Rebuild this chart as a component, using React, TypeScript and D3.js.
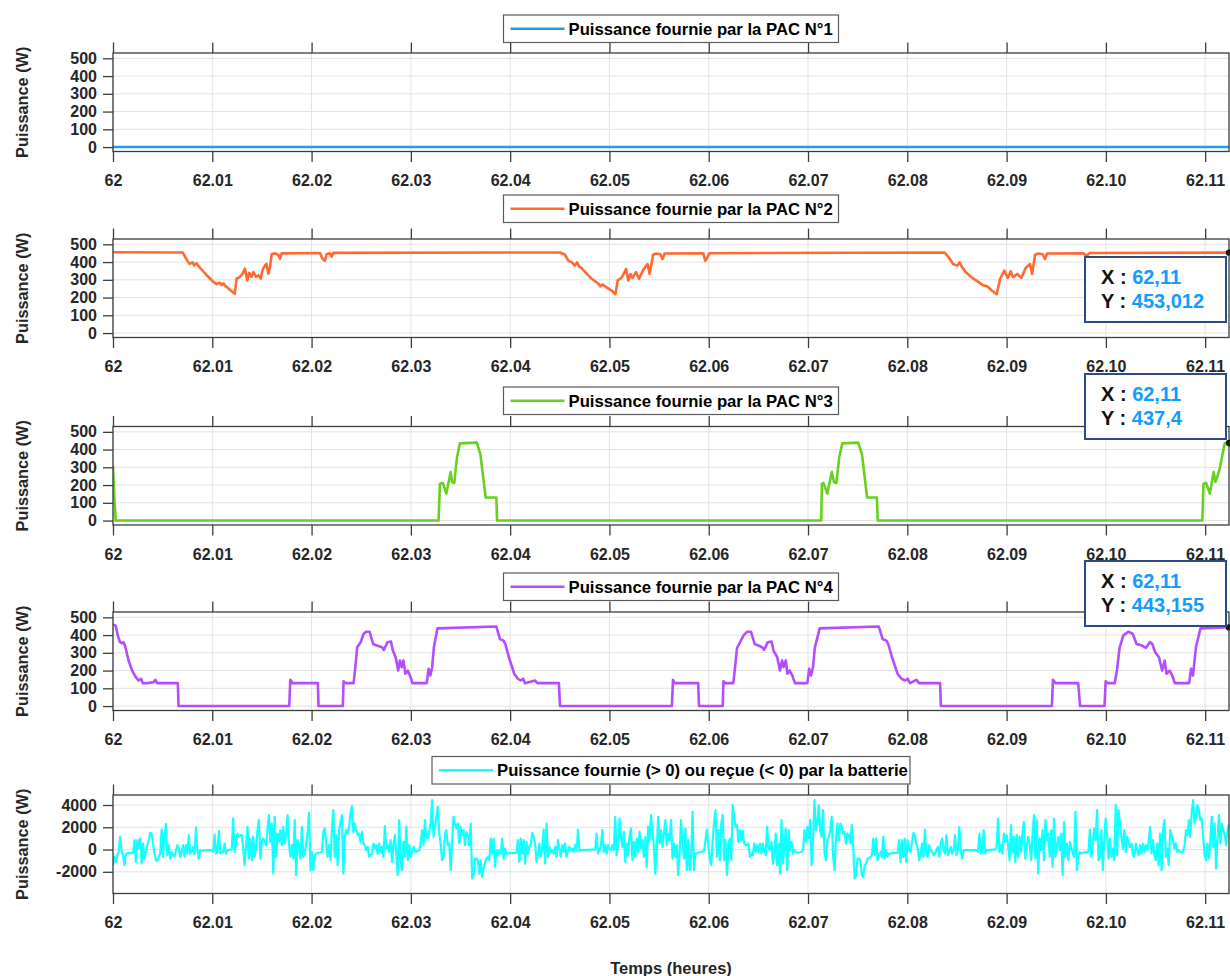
import React, { useEffect, useRef } from 'react';
import * as d3 from 'd3';

type Pt = [number, number];

const FONT = '"Liberation Sans", Arial, Helvetica, sans-serif';

// axes
const timeStart = 62;
const timeEnd = 62.1124;
const xTicks = [62, 62.01, 62.02, 62.03, 62.04, 62.05, 62.06, 62.07, 62.08, 62.09, 62.1, 62.11];
const xTickLabels = ['62', '62.01', '62.02', '62.03', '62.04', '62.05', '62.06', '62.07', '62.08', '62.09', '62.10', '62.11'];
const pacTicks = [0, 100, 200, 300, 400, 500];
const batteryTicks = [-2000, 0, 2000, 4000];

// PAC N°1 : always off
const pac1: Pt[] = [[62, 0], [62.1124, 0]];

// PAC N°2 (t in hours, W)
const pac2: Pt[] = [
  [62, 455], [62.00702, 454], [62.00748, 408], [62.00769, 390], [62.00802, 399], [62.00816, 381], [62.00843, 393],
  [62.00863, 375], [62.00876, 368], [62.00943, 326], [62.0101, 289], [62.01044, 276], [62.01071, 284], [62.01094, 271],
  [62.01111, 280], [62.01138, 262], [62.01178, 244], [62.01225, 221], [62.01245, 307], [62.01272, 313], [62.01306, 335],
  [62.01329, 363], [62.01353, 298], [62.01373, 339], [62.01396, 317], [62.01413, 344], [62.0144, 317], [62.01463, 326],
  [62.01487, 307], [62.01507, 357], [62.01531, 381], [62.01547, 390], [62.01564, 335], [62.01581, 370], [62.01598, 445],
  [62.01631, 449], [62.01665, 441], [62.01682, 418], [62.01698, 449], [62.02085, 451], [62.02111, 418], [62.02135, 408],
  [62.02152, 445], [62.02185, 449], [62.02202, 430], [62.02219, 452], [62.04502, 454],
  [62.04553, 441], [62.04587, 407], [62.04622, 398], [62.04652, 380], [62.04674, 398], [62.04695, 374], [62.04717, 367],
  [62.04803, 315], [62.04889, 278], [62.0491, 263], [62.04932, 274], [62.04966, 259], [62.05018, 241], [62.05061, 219],
  [62.05083, 296], [62.05126, 315], [62.05168, 361], [62.0519, 296], [62.05212, 333], [62.05233, 311], [62.05268, 343],
  [62.05298, 306], [62.0534, 356], [62.05384, 389], [62.05405, 333], [62.0544, 441], [62.0547, 448], [62.05513, 444],
  [62.05535, 417], [62.05556, 448], [62.05944, 450], [62.05965, 407], [62.05986, 426], [62.06008, 450], [62.08375, 454],
  [62.08418, 426], [62.08461, 389], [62.08504, 380], [62.08526, 398], [62.08556, 367], [62.0859, 343], [62.08655, 311],
  [62.08719, 287], [62.08762, 269], [62.08806, 263], [62.08848, 241], [62.089, 219], [62.08935, 306], [62.08977, 352],
  [62.09012, 311], [62.09042, 348], [62.09064, 315], [62.09107, 333], [62.09149, 311], [62.09192, 367], [62.09236, 389],
  [62.09257, 333], [62.09287, 441], [62.09321, 448], [62.09364, 444], [62.09386, 417], [62.09408, 448], [62.09773, 449],
  [62.09804, 435], [62.09838, 451], [62.1124, 453.012],
];

// PAC N°3
const pac3: Pt[] = [
  [62, 310], [62.00013, 134], [62.00027, 0], [62.03279, 0], [62.03293, 208], [62.03322, 212], [62.03357, 152],
  [62.03401, 273], [62.03415, 217], [62.03437, 212], [62.03465, 357], [62.03494, 435], [62.03664, 439], [62.037, 375],
  [62.03753, 130], [62.03861, 130], [62.03868, 0],
  [62.07133, 0], [62.0714, 208], [62.07156, 212], [62.07194, 152], [62.0724, 273], [62.07262, 217], [62.07285, 212],
  [62.07315, 357], [62.07345, 435], [62.07505, 439], [62.07543, 375], [62.07595, 130], [62.07694, 130], [62.07702, 0],
  [62.10972, 0], [62.10983, 208], [62.11009, 212], [62.11047, 152], [62.11085, 273], [62.11104, 217], [62.11142, 282],
  [62.11198, 437], [62.1124, 437.4],
];

// PAC N°4
const pac4: Pt[] = [
  [62, 459], [62.00027, 453], [62.00049, 397], [62.0007, 360], [62.00092, 354], [62.00106, 360], [62.00121, 341],
  [62.00157, 257], [62.00193, 200], [62.00229, 163], [62.00257, 144], [62.00283, 154], [62.00301, 129], [62.00337, 129],
  [62.00409, 135], [62.00427, 148], [62.00445, 129], [62.00653, 129], [62.0066, 0], [62.01775, 0], [62.01786, 148],
  [62.01811, 129], [62.02063, 129], [62.0207, 0], [62.02315, 0], [62.02322, 140], [62.02343, 129], [62.02423, 129],
  [62.02441, 219], [62.02459, 331], [62.02495, 360], [62.02523, 406], [62.02549, 419], [62.02584, 419], [62.0262, 350],
  [62.02656, 341], [62.0271, 331], [62.02728, 316], [62.02764, 360], [62.028, 363], [62.02818, 313], [62.02847, 275],
  [62.02872, 200], [62.0289, 257], [62.02908, 219], [62.02926, 257], [62.02944, 182], [62.02969, 200], [62.02991, 172],
  [62.03016, 129], [62.0316, 129], [62.03178, 210], [62.03196, 172], [62.03214, 219], [62.03232, 331], [62.03268, 438],
  [62.03861, 448], [62.03897, 378], [62.03933, 369], [62.03951, 350], [62.03987, 275], [62.04041, 182], [62.04077, 154],
  [62.04106, 144], [62.04131, 154], [62.04149, 129], [62.0425, 144], [62.04275, 129], [62.04491, 129], [62.04502, 0],
  [62.05629, 0], [62.0564, 148], [62.05656, 129], [62.05894, 129], [62.05902, 0], [62.06141, 0], [62.06148, 140],
  [62.06171, 129], [62.06247, 129], [62.06262, 200], [62.06285, 328], [62.06311, 354], [62.06349, 397], [62.06387, 419],
  [62.06425, 419], [62.06462, 350], [62.065, 341], [62.06539, 331], [62.06558, 316], [62.06595, 360], [62.06633, 363],
  [62.06652, 313], [62.0669, 275], [62.06717, 200], [62.06739, 257], [62.06754, 219], [62.06777, 257], [62.06792, 182],
  [62.06815, 200], [62.06842, 172], [62.06868, 129], [62.06993, 129], [62.07012, 210], [62.07031, 172], [62.0705, 219],
  [62.07069, 331], [62.07118, 438], [62.07713, 448], [62.07751, 378], [62.07789, 369], [62.07808, 350], [62.07846, 275],
  [62.07902, 182], [62.07941, 154], [62.07978, 144], [62.08005, 154], [62.08027, 129], [62.08092, 148], [62.08119, 129],
  [62.0833, 129], [62.08338, 0], [62.09456, 0], [62.09467, 148], [62.09494, 129], [62.09721, 129], [62.0974, 0],
  [62.09986, 0], [62.09998, 140], [62.10024, 129], [62.10089, 129], [62.10111, 200], [62.10138, 328], [62.10175, 397],
  [62.10225, 419], [62.10271, 406], [62.10309, 350], [62.10365, 341], [62.10403, 328], [62.10441, 360], [62.10467, 350],
  [62.10497, 303], [62.10535, 275], [62.10566, 200], [62.10592, 257], [62.10611, 182], [62.10642, 200], [62.10668, 172],
  [62.10695, 129], [62.10839, 129], [62.10858, 210], [62.10877, 172], [62.10907, 331], [62.10953, 438], [62.11198, 443],
  [62.1124, 443.155],
];

// battery power, sampled on a regular time base (first and second half of the window)
const batteryAStart = 62;
const batteryBStart = 62.05606;
const batteryA = [
  -1410, -660, -1110, -510, -210, 1140, -60, -510, -1410, -360,
  -360, -330, -330, -300, -300, 840, -1110, 840, 90, 990,
  -1260, 540, -810, -210, 390, 840, 1500, 1440, 540, -360,
  -960, -1020, -660, -360, 1800, -660, 1140, 2280, -510, 390,
  -810, -210, -510, -660, -60, 390, 90, -660, -210, 390,
  -660, 390, -360, 1290, -360, -210, 240, -420, 1980, -60,
  -810, -60, -90, -90, -90, -60, -60, -60, -60, -60,
  -210, 1350, -360, -210, 1680, -360, -210, -240, 540, -360,
  -60, -30, -30, 0, 2790, -210, 540, 1440, 1140, 1290,
  1290, 90, -1410, 390, 2040, -810, 990, -960, 1140, -660,
  240, 1740, 2640, -810, 690, 990, 690, 390, 1890, 3090,
  690, 2340, -2160, 2940, -660, 1440, 690, 1740, 390, 2040,
  540, 1440, 3090, 540, -660, 390, -810, 2640, -2310, 840,
  90, -810, 2040, -660, -360, 540, 1440, 3300, -1860, -210,
  -1860, -510, -360, -330, -300, -270, -210, 1590, 1890, 540,
  -660, 390, -960, 1890, 3540, -660, 1290, -1410, 1740, 2490,
  3090, -2160, 1140, 1740, 1440, 2040, 3240, 3900, 1590, 2340,
  1740, 1290, 1440, 690, 1590, 540, 390, -60, 240, -660,
  -510, -360, 540, 90, 390, -360, 540, -210, 240, -660,
  2100, 90, 390, -210, 840, -1110, 390, 1290, -360, -2310,
  2640, -1110, -1860, 690, -660, 2040, -960, 390, -660, -210,
  240, -210, -210, -120, -60, 540, 1740, 390, 2640, 1140,
  990, 1590, 2340, 4440, 1140, 2040, 2940, 3840, 1440, 540,
  -960, -660, 1440, 1740, 390, 540, -1860, 690, 2940, 2340,
  1890, 2340, 540, 2040, 1290, 1740, 390, 1590, 1290, 390,
  2340, -2610, -2310, -810, -810, -960, -2160, -960, -2460, -1710,
  -1110, -810, -660, -960, 990, -360, 990, -1560, -60, -510,
  -60, -360, 990, -810, 90, -360, -360, -330, -330, -330,
  -300, -300, -300, 840, -1110, 990, -360, 840, -1260, 690,
  -360, 240, 540, 1500, 1140, 540, -1110, -360, 540, -660,
  240, 1800, -1260, 2340, -660, 240, -210, -60, -360, 240,
  -660, 840, 90, -660, 390, -210, 540, -660, 0, 240,
  -60, 90, -210, 390, -60, 1800, -60, -60, -60, -60,
  -30, -30, -30, -30, 0, 0, 0, 0, 1440, -360,
  -60, 390, 1740, -210, 390, -360, 390, 90, -60, 390,
  -60, 2940, -510, 540, 2790, 1140, 240, 1590, -1110, 540,
  -510, 1290, 1890, -960, 690, -660, 990, -210, 1590, 90,
  840, -660, 1140, -1560, 2040, 840, 3090, 1740, 240, -2160,
  -60, 2940, 540, 1740, 240, 1440, 2640, 390, 1440,
];
const batteryB = [
  840, 2640, -810, 540, -660, 390, -2310, -210, 2640, 540,
  -810, 1890, -1860, 840, -1860, -660, 3390, -1860, -360, -360,
  -300, -240, -210, -180, -150, 840, 1800, 390, -810, -1410,
  840, 2490, 3540, -660, 1740, -960, 2340, 3090, -960, 840,
  -2310, 540, 990, -960, 3990, 2940, 2040, 2190, 690, 1740,
  840, 1680, 540, 390, 390, 540, -660, -360, -510, 540,
  -210, 390, -210, 540, -360, 540, -60, -510, 2040, 90,
  -60, 690, -1260, -360, 1440, -1410, 540, -2160, 2640, -1260,
  240, 1890, -1860, 1740, -60, 690, -360, -60, -210, -300,
  -270, -240, -210, -60, 1740, 690, 2040, 990, 2640, -1410,
  840, 4440, 1740, 2340, 3990, 1740, 1140, 3540, -360, -960,
  840, 1140, 1740, 2940, -660, -1860, 1140, 2340, 840, 2340,
  2040, 1440, 1590, 540, 1440, 1290, 540, 2190, 390, -2610,
  -2310, -810, -810, -960, -2310, -2460, -1410, -1260, -810, -810,
  -660, -510, 990, -510, 990, -960, -510, -210, -660, 1140,
  -810, -60, -660, -360, -360, -330, -330, -300, -300, -300,
  840, -1110, 840, -660, 990, -1110, 840, -60, -210, 690,
  1500, 1290, 540, 90, -960, -360, 540, -660, 1800, -510,
  -660, 390, -60, -210, -510, -360, -60, 240, -660, 540,
  990, -60, -360, 1290, -510, -210, 240, -360, -60, 1290,
  -510, -60, 2040, -60, -810, -60, -60, -60, -60, -60,
  -60, -60, -60, -60, -60, -210, 1440, -360, -210, 1740,
  -360, -60, -60, -30, -30, 0, 0, 0, 240, 2790,
  -210, 390, -360, 1440, 690, 1290, 390, -960, 2190, -210,
  1140, -1110, 1290, -660, 1140, -210, 1440, 2490, -810, 390,
  1140, 540, -960, 1140, 3090, -810, 2640, -2160, 990, -60,
  1740, -960, 2640, 840, 1440, -660, 1740, -1560, 2790, -660,
  390, 1140, -60, 1440, -2310, 2490, -660, 540, -960, 690,
  240, -360, -660, 3390, -1860, -510, -210, -360, -300, -240,
  -240, -210, -210, 1800, -660, 540, 1890, 840, 3540, -960,
  -660, 1740, -1860, 840, 2790, 1290, -810, 990, -660, 90,
  -960, 3990, -510, 3540, 2340, 1140, 90, 1740, -210, 1140,
  540, 240, 540, -510, -660, 540, -60, -510, 390, -360,
  540, -210, 390, -60, 690, 2040, -360, 840, -510, -960,
  540, -1410, 1440, -1860, 1740, 2640, -660, 90, -1410, 1740,
  1290, 840, 90, 540, -210, -60, -210, -210, -210, 390,
  1740, 1290, 2640, 1140, 3390, 4440, 2340, 2940, 3990, 3540,
  2640, 2790, 1140, -510, -960, 540, -810, 840, 2940, 240,
  2340, -1710, 840, 3090, 540, 2340, 1740, 1290, 390, 1740,
  2340,
];

const battery: Pt[] = [
  ...batteryA.map((v, i): Pt => [batteryAStart + (i * (batteryBStart - batteryAStart)) / batteryA.length, v]),
  ...batteryB.map((v, i): Pt => [batteryBStart + (i * (timeEnd - batteryBStart)) / (batteryB.length - 1), v]),
];

const legendLabels = [
  'Puissance fournie par la PAC N°1',
  'Puissance fournie par la PAC N°2',
  'Puissance fournie par la PAC N°3',
  'Puissance fournie par la PAC N°4',
  'Puissance fournie (> 0) ou reçue (< 0) par la batterie',
];
const seriesColors = ['#1f9bf0', '#ff6a33', '#68d11f', '#b34dff', '#14ffff'];

// data tips shown on the last sample of PAC 2, 3, 4
const tipPanels = [1, 2, 3];
const tipX = ['62,11', '62,11', '62,11'];
const tipY = ['453,012', '437,4', '443,155'];

// layout
const plotLeft = 113;
const plotRight = 1229;
const plotHeight = 98.5;
const panelTops = [53, 239, 426.5, 612, 795];
const legendTops = [15, 195, 387, 573, 756.5];
const legendWidths = [335, 335, 335, 335, 478];
const tipTops = [257, 374, 561];

const panels = [
  { data: pac1, ticks: pacTicks, domain: [-25, 530] },
  { data: pac2, ticks: pacTicks, domain: [-25, 530] },
  { data: pac3, ticks: pacTicks, domain: [-25, 530] },
  { data: pac4, ticks: pacTicks, domain: [-25, 530] },
  { data: battery, ticks: batteryTicks, domain: [-3950, 4900] },
];

const App: React.FC = () => {
  const svgRef = useRef<SVGSVGElement>(null);

  useEffect(() => {
    document.body.style.margin = '0';
    if (!svgRef.current) return;
    const svg = d3.select(svgRef.current);
    svg.selectAll('*').remove();

    const x = d3.scaleLinear().domain([timeStart, timeEnd]).range([plotLeft, plotRight]);
    const midX = (plotLeft + plotRight) / 2;
    const yScales: d3.ScaleLinear<number, number>[] = [];

    panels.forEach((p, i) => {
      const top = panelTops[i];
      const bottom = top + plotHeight;
      const y = d3.scaleLinear().domain(p.domain).range([bottom, top]);
      yScales.push(y);
      const g = svg.append('g');

      // grid
      g.append('g').selectAll('line').data(xTicks).join('line')
        .attr('x1', d => x(d)).attr('x2', d => x(d))
        .attr('y1', top).attr('y2', bottom)
        .attr('stroke', '#e2e2e2').attr('stroke-width', 1);
      g.append('g').selectAll('line').data(p.ticks).join('line')
        .attr('x1', plotLeft).attr('x2', plotRight)
        .attr('y1', d => y(d)).attr('y2', d => y(d))
        .attr('stroke', '#e2e2e2').attr('stroke-width', 1);

      // series
      const clipId = `plot-clip-${i}`;
      svg.append('clipPath').attr('id', clipId).append('rect')
        .attr('x', plotLeft).attr('y', top).attr('width', plotRight - plotLeft).attr('height', plotHeight);
      const line = d3.line<Pt>().x(d => x(d[0])).y(d => y(d[1]));
      g.append('path')
        .datum(p.data)
        .attr('clip-path', `url(#${clipId})`)
        .attr('d', line)
        .attr('fill', 'none')
        .attr('stroke', seriesColors[i])
        .attr('stroke-width', i === 4 ? 2.2 : 2.6)
        .attr('stroke-linejoin', 'round');

      // box
      g.append('rect')
        .attr('x', plotLeft).attr('y', top)
        .attr('width', plotRight - plotLeft).attr('height', plotHeight)
        .attr('fill', 'none').attr('stroke', '#3c3c3c').attr('stroke-width', 1.3);

      // axes
      const axB = g.append('g').attr('transform', `translate(0,${bottom})`)
        .call(d3.axisBottom(x).tickValues(xTicks).tickFormat((_, k) => xTickLabels[k]).tickSize(10.5).tickSizeOuter(0).tickPadding(13));
      const axT = g.append('g').attr('transform', `translate(0,${top})`)
        .call(d3.axisTop(x).tickValues(xTicks).tickFormat(() => '').tickSize(10.5).tickSizeOuter(0));
      const axL = g.append('g').attr('transform', `translate(${plotLeft},0)`)
        .call(d3.axisLeft(y).tickValues(p.ticks).tickFormat(d => String(d)).tickSize(10).tickSizeOuter(0).tickPadding(6));
      [axB, axT, axL].forEach(a => {
        a.select('.domain').remove();
        a.attr('font-family', FONT).attr('font-size', 16).attr('font-weight', 'bold');
        a.selectAll('line').attr('stroke', '#3c3c3c').attr('stroke-width', 1.3);
        a.selectAll('text').attr('fill', '#262626');
      });

      // y label
      g.append('text')
        .attr('transform', `translate(22,${(top + bottom) / 2}) rotate(-90)`)
        .attr('text-anchor', 'middle').attr('dy', '0.35em')
        .attr('font-family', FONT).attr('font-size', 16.3).attr('font-weight', 'bold')
        .attr('fill', '#262626')
        .text('Puissance (W)');

      // legend
      const lw = legendWidths[i];
      const lx = midX - lw / 2;
      const ly = legendTops[i];
      const lh = 27.5;
      g.append('rect')
        .attr('x', lx).attr('y', ly).attr('width', lw).attr('height', lh)
        .attr('fill', '#fff').attr('stroke', '#5a5a5a').attr('stroke-width', 1.2);
      g.append('line')
        .attr('x1', lx + 7).attr('x2', lx + 61)
        .attr('y1', ly + lh / 2).attr('y2', ly + lh / 2)
        .attr('stroke', seriesColors[i]).attr('stroke-width', 2.6);
      g.append('text')
        .attr('x', lx + 65).attr('y', ly + lh / 2).attr('dy', '0.35em')
        .attr('font-family', FONT).attr('font-size', 16.7).attr('font-weight', 'bold')
        .attr('fill', '#000')
        .text(legendLabels[i]);
    });

    // x label
    svg.append('text')
      .attr('x', midX).attr('y', 968).attr('dy', '0.35em')
      .attr('text-anchor', 'middle')
      .attr('font-family', FONT).attr('font-size', 16.5).attr('font-weight', 'bold')
      .attr('fill', '#262626')
      .text('Temps (heures)');

    // data tips
    tipPanels.forEach((pi, k) => {
      const last = panels[pi].data[panels[pi].data.length - 1];
      const y = yScales[pi];
      svg.append('circle')
        .attr('cx', x(last[0])).attr('cy', y(last[1])).attr('r', 3.2)
        .attr('fill', '#1a1a1a');
      const bx = 1085;
      const by = tipTops[k];
      const bw = 141;
      const bh = 65;
      svg.append('rect')
        .attr('x', bx).attr('y', by).attr('width', bw).attr('height', bh)
        .attr('fill', '#fff').attr('stroke', '#2c4a86').attr('stroke-width', 2);
      const rows: [string, string][] = [['X : ', tipX[k]], ['Y : ', tipY[k]]];
      rows.forEach((r, j) => {
        const t = svg.append('text')
          .attr('x', bx + 16).attr('y', by + 20 + j * 24).attr('dy', '0.35em')
          .attr('font-family', FONT).attr('font-size', 20).attr('font-weight', 'bold');
        t.append('tspan').attr('fill', '#111').text(r[0]);
        t.append('tspan').attr('fill', '#119cff').text(r[1]);
      });
    });
  }, []);

  return (
    <div style={{ width: 1230, height: 976, background: '#fff' }}>
      <svg ref={svgRef} width={1230} height={976} style={{ display: 'block' }} />
    </div>
  );
};

export default App;
